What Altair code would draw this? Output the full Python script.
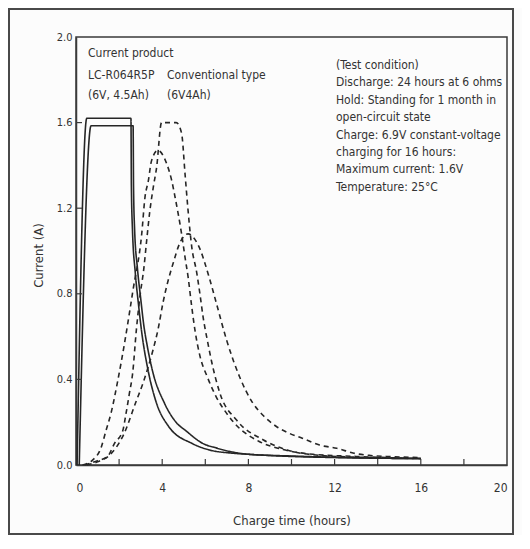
import altair as alt
import pandas as pd

FONT = "DejaVu Sans Condensed, Liberation Sans Narrow, sans-serif"

# ---------------- data ----------------
# Current product LC-R064R5P (6V, 4.5Ah) - two solid curves
s1_t = [0.05, 0.5, 2.55, 2.57, 2.62, 2.75, 2.9, 3.05, 3.35, 3.7, 4.3, 5.4, 6.2, 7.3, 8.0, 10.0, 12.0, 16.0]
s1_i = [0.0, 1.62, 1.62, 1.3, 1.1, 0.9, 0.75, 0.62, 0.44, 0.3, 0.18, 0.1, 0.07, 0.055, 0.05, 0.04, 0.035, 0.03]
s2_t = [0.15, 0.7, 2.65, 2.67, 2.72, 2.85, 3.0, 3.15, 3.3, 3.55, 4.1, 4.64, 5.1, 5.9, 6.5, 7.3, 8.0, 10.0, 12.0, 14.0, 16.0]
s2_i = [0.0, 1.585, 1.585, 1.3, 1.1, 0.92, 0.78, 0.65, 0.56, 0.44, 0.29, 0.2, 0.16, 0.1, 0.08, 0.06, 0.05, 0.042, 0.036, 0.032, 0.03]

# Conventional type (6V4Ah) - three dashed curves
d1_t = [0.4, 1.0, 1.47, 1.78, 2.17, 2.32, 2.47, 2.63, 2.8, 2.97, 3.15, 3.28, 3.43, 3.59, 3.74, 3.97, 4.65,
        4.9, 5.06, 5.2, 5.37, 5.6, 5.75, 5.9, 6.1, 6.3, 6.68, 7.45, 8.7, 9.8, 11.3, 13.6, 16.0]
d1_i = [0.0, 0.02, 0.04, 0.1, 0.16, 0.24, 0.33, 0.43, 0.63, 0.79, 0.92, 1.05, 1.19, 1.3, 1.39, 1.6, 1.6,
        1.55, 1.36, 1.19, 1.02, 0.9, 0.8, 0.69, 0.58, 0.48, 0.335, 0.21, 0.117, 0.07, 0.045, 0.035, 0.03]
d2_t = [0.3, 0.77, 1.16, 1.39, 1.62, 1.93, 2.27, 2.65, 3.05, 3.2, 3.36, 3.5, 3.8, 4.2, 4.44, 4.6, 4.9, 5.06,
        5.2, 5.37, 5.52, 5.75, 6.1, 6.5, 7.0, 7.5, 8.5, 9.5, 11.0, 13.0, 16.0]
d2_i = [0.0, 0.023, 0.08, 0.16, 0.24, 0.39, 0.58, 0.82, 1.08, 1.25, 1.33, 1.42, 1.47, 1.41, 1.33, 1.25, 1.08, 0.97,
        0.88, 0.74, 0.63, 0.51, 0.41, 0.32, 0.24, 0.18, 0.11, 0.075, 0.05, 0.04, 0.03]
d3_t = [0.5, 1.0, 1.6, 2.2, 2.8, 3.1, 3.58, 3.8, 4.04, 4.27, 4.5, 4.83, 5.2, 5.66, 6.2, 6.53, 7.0, 7.6, 8.2,
        8.7, 9.3, 9.9, 10.5, 11.3, 12.1, 12.9, 13.6, 14.4, 16.0]
d3_i = [0.0, 0.015, 0.05, 0.14, 0.3, 0.38, 0.54, 0.63, 0.76, 0.86, 0.94, 1.04, 1.08, 1.03, 0.87, 0.75, 0.58, 0.41, 0.29,
        0.23, 0.18, 0.148, 0.125, 0.093, 0.078, 0.055, 0.045, 0.04, 0.035]

x_labels = [0, 4, 8, 12, 16, 20]
x_minor = [2, 4, 6, 8, 10, 12, 14, 16, 18]
y_labels = [0.0, 0.4, 0.8, 1.2, 1.6, 2.0]
y_minor = [0.4, 0.8, 1.2, 1.6]

legend_texts = ["Current product", "LC-R064R5P", "(6V, 4.5Ah)", "Conventional type", "(6V4Ah)"]
condition_lines = [
    "(Test condition)",
    "Discharge: 24 hours at 6 ohms",
    "Hold: Standing for 1 month in",
    "open-circuit state",
    "Charge: 6.9V constant-voltage",
    "charging for 16 hours:",
    "Maximum current: 1.6V",
    "Temperature: 25\u00b0C",
]

series = [
    ("s1", "Current product", s1_t, s1_i),
    ("s2", "Current product", s2_t, s2_i),
    ("d1", "Conventional type", d1_t, d1_i),
    ("d2", "Conventional type", d2_t, d2_i),
    ("d3", "Conventional type", d3_t, d3_i),
]
rows = []
for name, kind, ts, cs in series:
    for k, (t, c) in enumerate(zip(ts, cs)):
        rows.append({"series": name, "type": kind, "t": t, "i": c, "k": k})
df = pd.DataFrame(rows)

W, H = 431, 428
INK = "#262626"
TXT = "#333333"

x_enc = alt.X("t:Q", scale=alt.Scale(domain=[0, 20], nice=False),
              axis=alt.Axis(values=x_labels, title="Charge time (hours)", labelPadding=17,
                            titleY=55, titleBaseline="middle"))
y_enc = alt.Y("i:Q", scale=alt.Scale(domain=[0, 2], nice=False),
              axis=alt.Axis(values=y_labels, format=".1f", title="Current (A)", labelPadding=4,
                            labelFontSize=11,
                            titleX=-38, titleY=218, titleAngle=-90, titleBaseline="middle",
                            titleAlign="center"))

lines = alt.Chart(df).mark_line(interpolate="monotone", strokeWidth=1.6, color=INK).encode(
    x=x_enc,
    y=y_enc,
    detail="series:N",
    order="k:Q",
    strokeDash=alt.StrokeDash("type:N",
                              scale=alt.Scale(domain=["Current product", "Conventional type"],
                                              range=[[1, 0], [5, 4]]),
                              legend=None),
)

xt = alt.Chart(pd.DataFrame({"t": x_minor})).mark_rule(color="#3a3a3a", strokeWidth=1.2).encode(
    x=x_enc, y=alt.value(H), y2=alt.value(H - 6))
yt = alt.Chart(pd.DataFrame({"i": y_minor})).mark_rule(color="#3a3a3a", strokeWidth=1.2).encode(
    y=y_enc, x=alt.value(0), x2=alt.value(6))

frame = alt.Chart(pd.DataFrame({"a": [0]})).mark_rect(fillOpacity=0, stroke="#4a4a4a", strokeWidth=2).encode(
    x=alt.value(-67), x2=alt.value(437), y=alt.value(-28), y2=alt.value(497))

one = pd.DataFrame({"a": [0]})
texts = []
legend_pos = [(12, 16), (12, 38), (12, 58), (91, 38), (91, 58)]
for txt, (px, py) in zip(legend_texts, legend_pos):
    texts.append(alt.Chart(one).mark_text(text=txt, align="left", baseline="middle", font=FONT,
                                          fontSize=12, color=TXT).encode(x=alt.value(px), y=alt.value(py)))
for n, txt in enumerate(condition_lines):
    texts.append(alt.Chart(one).mark_text(text=txt, align="left", baseline="middle", font=FONT,
                                          fontSize=12, color=TXT).encode(x=alt.value(260), y=alt.value(28 + 17.4 * n)))

chart = alt.layer(lines, xt, yt, frame, *texts).properties(
    width=W, height=H,
    padding={"left": 68, "top": 29, "right": 15, "bottom": 70},
    autosize=alt.AutoSizeParams(type="none"),
    background="#fcfcfc",
).configure_view(stroke="#3a3a3a", strokeWidth=1.5).configure_axis(
    grid=False, ticks=False, domainColor="#3a3a3a", domainWidth=1.5,
    labelFont=FONT, labelFontSize=12, labelColor=TXT,
    titleFont=FONT, titleFontSize=13, titleFontWeight="normal", titleColor=TXT,
)

chart.save("out.html", embed_options={"renderer": "svg", "actions": False})
